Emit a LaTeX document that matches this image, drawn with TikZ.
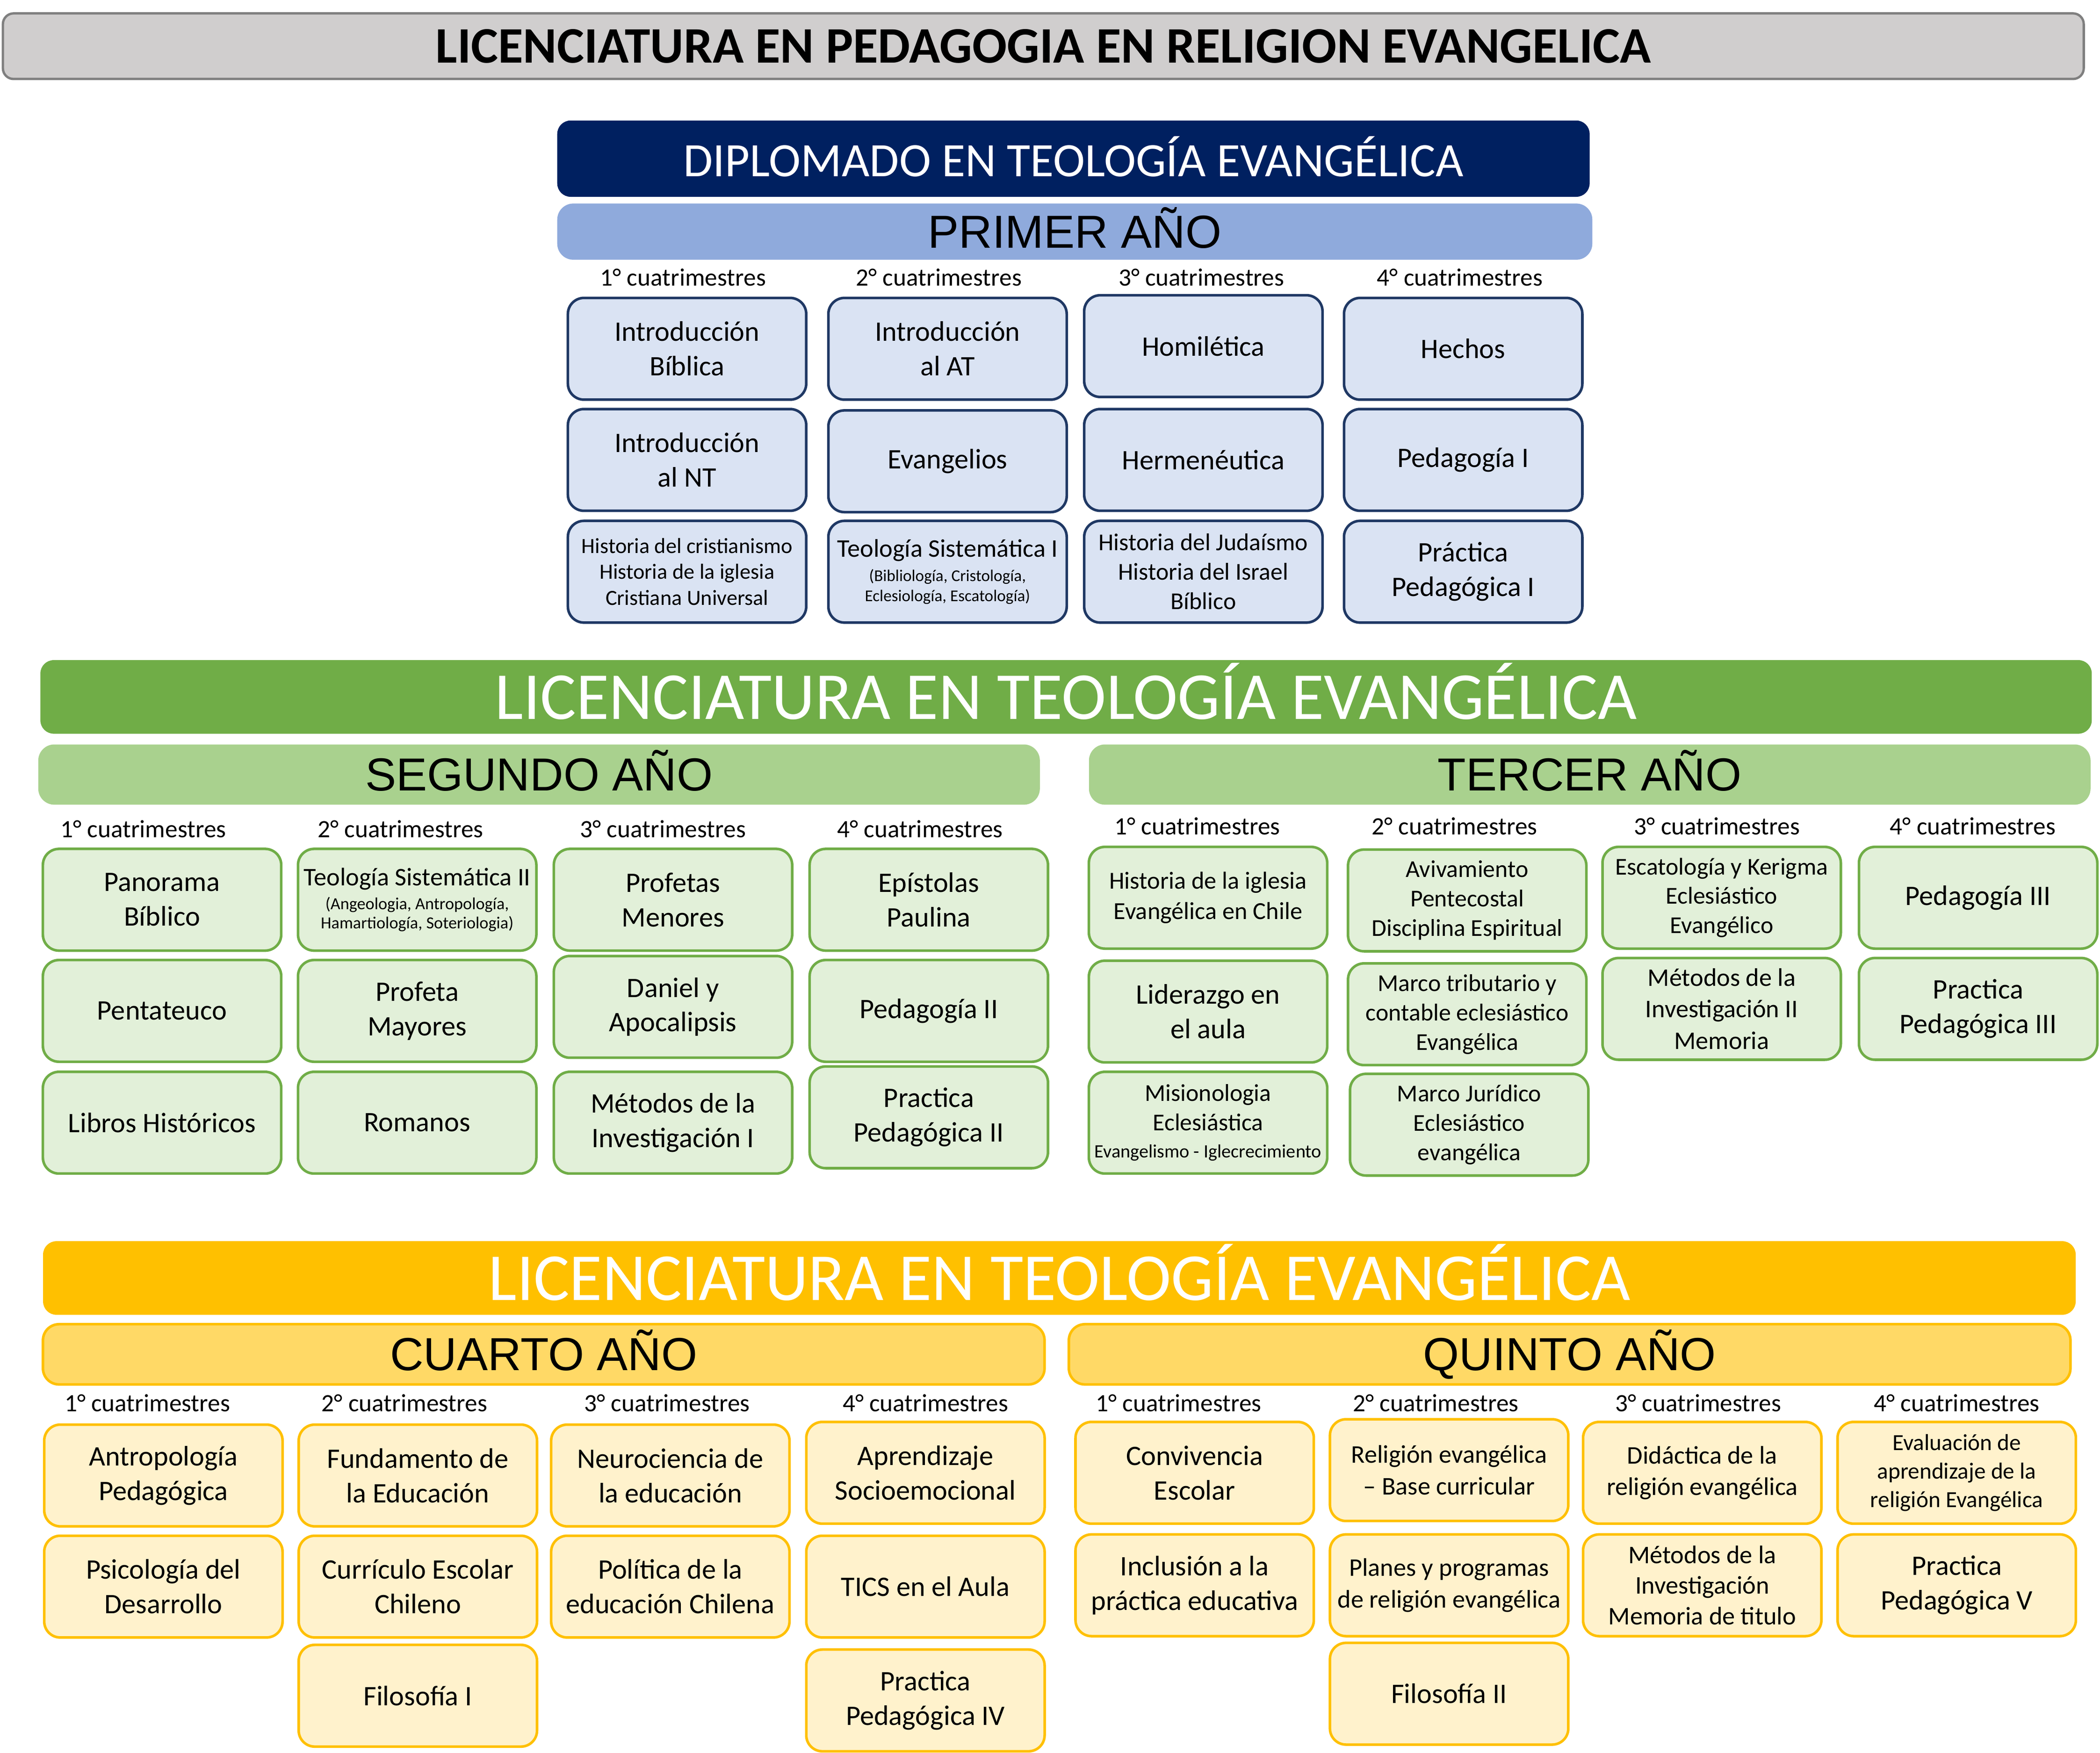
\documentclass[tikz,border=0pt]{standalone}
\usepackage{fontspec}
\usepackage{tikz}
\usepackage{xcolor}
\setmainfont{Carlito}
\newfontfamily\arialfont{Liberation Sans}
\definecolor{titlegray}{HTML}{D0CECE}
\definecolor{titleline}{HTML}{7F7F7F}
\definecolor{navy}{HTML}{002060}
\definecolor{bluebar}{HTML}{8FAADC}
\definecolor{bluefill}{HTML}{DAE3F3}
\definecolor{blueline}{HTML}{1F3864}
\definecolor{greenhead}{HTML}{70AD47}
\definecolor{greenbar}{HTML}{A9D18E}
\definecolor{greenfill}{HTML}{E2F0D9}
\definecolor{yellowhead}{HTML}{FFC000}
\definecolor{yellowbar}{HTML}{FFD966}
\definecolor{yellowfill}{HTML}{FFF2CC}

\begin{document}
\begin{tikzpicture}[x=0.02cm, y=-0.02cm, font=\fontsize{12}{14.7}\selectfont,
    subject/.style={rectangle, rounded corners=0.24cm, line width=1.1pt, minimum width=3.56cm, minimum height=1.52cm, inner sep=1pt, align=center},
    bluebox/.style={subject, draw=blueline, fill=bluefill},
    greenbox/.style={subject, draw=greenhead, fill=greenfill},
    yellowbox/.style={subject, draw=yellowhead, fill=yellowfill},
    cuatri/.style={font=\fontsize{10.6}{12}\selectfont, inner sep=0pt},
    yearbar/.style={rectangle, rounded corners=0.24cm, inner sep=0pt, minimum width=14.96cm, minimum height=0.9cm, text depth=3.5pt, font=\arialfont\fontsize{19.7}{22}\selectfont},
    headbar/.style={rectangle, rounded corners=0.2cm, inner sep=0pt, text=white, minimum height=1.1cm, text depth=5pt, font=\fontsize{28.6}{32}\selectfont},
    smalltext/.style={font=\fontsize{10.3}{12.5}\selectfont},
    midtext/.style={font=\fontsize{10.8}{13.4}\selectfont}
]
            \useasboundingbox (0,0) rectangle (1568,1309);

            \node[draw=titleline, fill=titlegray, line width=1pt, rounded corners=0.16cm, minimum width=31.08cm, minimum height=0.98cm, font=\bfseries\fontsize{21.8}{25}\selectfont] (title) at (779,34.5) {LICENCIATURA EN PEDAGOGIA EN RELIGION EVANGELICA};

            \node[headbar, fill=navy, minimum width=15.42cm, minimum height=1.14cm, text depth=2pt, font=\fontsize{20.4}{24}\selectfont] (diplomado) at (801.5,118.5) {DIPLOMADO EN TEOLOGÍA EVANGÉLICA};
            \node[yearbar, fill=bluebar, minimum width=15.46cm, minimum height=0.84cm] (primer) at (802.5,173) {PRIMER AÑO};

            \node[cuatri] (y1q1) at (510,207) {1° cuatrimestres};
            \node[cuatri] (y1q2) at (701,207) {2° cuatrimestres};
            \node[cuatri] (y1q3) at (897,207) {3° cuatrimestres};
            \node[cuatri] (y1q4) at (1090,207) {4° cuatrimestres};

            \node[bluebox] (y1a1) at (513,260.5) {Introducción\\Bíblica};
            \node[bluebox] (y1a2) at (513,343.5) {Introducción\\al NT};
            \node[bluebox, font=\fontsize{9.2}{11}\selectfont] (y1a3) at (513,427) {Historia del cristianismo\\Historia de la iglesia\\Cristiana Universal};
            \node[bluebox] (y1b1) at (707.5,260.5) {Introducción\\al AT};
            \node[bluebox] (y1b2) at (707.5,344.5) {Evangelios};
            \node[bluebox, font=\fontsize{7}{8.4}\selectfont] (y1b3) at (707.5,427) {{\fontsize{10.8}{13}\selectfont Teología Sistemática I}\\[2pt](Bibliología, Cristología,\\Eclesiología, Escatología)};
            \node[bluebox] (y1c1) at (898.5,258.5) {Homilética};
            \node[bluebox] (y1c2) at (898.5,343.5) {Hermenéutica};
            \node[bluebox, smalltext] (y1c3) at (898.5,427) {Historia del Judaísmo\\Historia del Israel\\Bíblico};
            \node[bluebox] (y1d1) at (1092.5,260.5) {Hechos};
            \node[bluebox] (y1d2) at (1092.5,343.5) {Pedagogía I};
            \node[bluebox] (y1d3) at (1092.5,427) {Práctica\\Pedagógica I};

            \node[headbar, fill=greenhead, minimum width=30.64cm] (teologia1) at (796,520.5) {LICENCIATURA EN TEOLOGÍA EVANGÉLICA};
            \node[yearbar, fill=greenbar] (segundo) at (402.5,578.5) {SEGUNDO AÑO};
            \node[yearbar, fill=greenbar] (tercero) at (1187,578.5) {TERCER AÑO};

            \node[cuatri] (y2q1) at (107,619) {1° cuatrimestres};
            \node[cuatri] (y2q2) at (299,619) {2° cuatrimestres};
            \node[cuatri] (y2q3) at (495,619) {3° cuatrimestres};
            \node[cuatri] (y2q4) at (687,619) {4° cuatrimestres};

            \node[greenbox] (y2a1) at (121,672) {Panorama\\Bíblico};
            \node[greenbox] (y2a2) at (121,755) {Pentateuco};
            \node[greenbox] (y2a3) at (121,838.5) {Libros Históricos};
            \node[greenbox, font=\fontsize{7.2}{8.2}\selectfont] (y2b1) at (311.5,672) {{\fontsize{10.8}{13}\selectfont Teología Sistemática II}\\[2pt](Angeologia, Antropología,\\Hamartiología, Soteriologia)};
            \node[greenbox] (y2b2) at (311.5,755) {Profeta\\Mayores};
            \node[greenbox] (y2b3) at (311.5,838.5) {Romanos};
            \node[greenbox] (y2c1) at (502.5,672) {Profetas\\Menores};
            \node[greenbox] (y2c2) at (502.5,752) {Daniel y\\Apocalipsis};
            \node[greenbox] (y2c3) at (502.5,838.5) {Métodos de la\\Investigación I};
            \node[greenbox] (y2d1) at (693.5,672) {Epístolas\\Paulina};
            \node[greenbox] (y2d2) at (693.5,755) {Pedagogía II};
            \node[greenbox] (y2d3) at (693.5,834.5) {Practica\\Pedagógica II};

            \node[cuatri] (y3q1) at (894,617) {1° cuatrimestres};
            \node[cuatri] (y3q2) at (1086,617) {2° cuatrimestres};
            \node[cuatri] (y3q3) at (1282,617) {3° cuatrimestres};
            \node[cuatri] (y3q4) at (1473,617) {4° cuatrimestres};

            \node[greenbox, font=\fontsize{10.4}{13}\selectfont] (y3a1) at (902,670.5) {Historia de la iglesia\\Evangélica en Chile};
            \node[greenbox] (y3a2) at (902,755.5) {Liderazgo en\\el aula};
            \node[greenbox, smalltext] (y3a3) at (902,838.5) {Misionologia\\Eclesiástica\\[-1pt]{\fontsize{8}{9}\selectfont Evangelismo - Iglecrecimiento}};
            \node[greenbox, smalltext] (y3b1) at (1095.5,672.5) {Avivamiento\\Pentecostal\\Disciplina Espiritual};
            \node[greenbox, smalltext] (y3b2) at (1095.5,757.5) {Marco tributario y\\contable eclesiástico\\Evangélica};
            \node[greenbox, smalltext] (y3b3) at (1097,840) {Marco Jurídico\\Eclesiástico\\evangélica};
            \node[greenbox, smalltext] (y3c1) at (1285.5,670.5) {Escatología y Kerigma\\Eclesiástico\\Evangélico};
            \node[greenbox, midtext] (y3c2) at (1285.5,753.5) {Métodos de la\\Investigación II\\Memoria};
            \node[greenbox] (y3d1) at (1477,670.5) {Pedagogía III};
            \node[greenbox] (y3d2) at (1477,753.5) {Practica\\Pedagógica III};

            \node[headbar, fill=yellowhead, minimum width=30.36cm] (teologia2) at (791,954.5) {LICENCIATURA EN TEOLOGÍA EVANGÉLICA};
            \node[yearbar, fill=yellowbar, draw=yellowhead, line width=1.1pt] (cuarto) at (406,1011.5) {CUARTO AÑO};
            \node[yearbar, fill=yellowbar, draw=yellowhead, line width=1.1pt] (quinto) at (1172,1011.5) {QUINTO AÑO};

            \node[cuatri] (y4q1) at (110,1048) {1° cuatrimestres};
            \node[cuatri] (y4q2) at (302,1048) {2° cuatrimestres};
            \node[cuatri] (y4q3) at (498,1048) {3° cuatrimestres};
            \node[cuatri] (y4q4) at (691,1048) {4° cuatrimestres};

            \node[yellowbox] (y4a1) at (122,1102) {Antropología\\Pedagógica};
            \node[yellowbox] (y4a2) at (122,1185) {Psicología del\\Desarrollo};
            \node[yellowbox] (y4b1) at (312,1102) {Fundamento de\\la Educación};
            \node[yellowbox] (y4b2) at (312,1185) {Currículo Escolar\\Chileno};
            \node[yellowbox] (y4b3) at (312,1266.5) {Filosofía I};
            \node[yellowbox] (y4c1) at (500.5,1102) {Neurociencia de\\la educación};
            \node[yellowbox] (y4c2) at (500.5,1185) {Política de la\\educación Chilena};
            \node[yellowbox] (y4d1) at (691,1100) {Aprendizaje\\Socioemocional};
            \node[yellowbox] (y4d2) at (691,1185) {TICS en el Aula};
            \node[yellowbox] (y4d3) at (691,1270) {Practica\\Pedagógica IV};

            \node[cuatri] (y5q1) at (880,1048) {1° cuatrimestres};
            \node[cuatri] (y5q2) at (1072,1048) {2° cuatrimestres};
            \node[cuatri] (y5q3) at (1268,1048) {3° cuatrimestres};
            \node[cuatri] (y5q4) at (1461,1048) {4° cuatrimestres};

            \node[yellowbox] (y5a1) at (892,1100) {Convivencia\\Escolar};
            \node[yellowbox] (y5a2) at (892,1184) {Inclusión a la\\práctica educativa};
            \node[yellowbox, midtext] (y5b1) at (1082,1098) {Religión evangélica\\– Base curricular};
            \node[yellowbox, midtext] (y5b2) at (1082,1184) {Planes y programas\\de religión evangélica};
            \node[yellowbox] (y5b3) at (1082,1265) {Filosofía II};
            \node[yellowbox, midtext] (y5c1) at (1271,1100) {Didáctica de la\\religión evangélica};
            \node[yellowbox, font=\fontsize{10.8}{13}\selectfont] (y5c2) at (1271,1184) {Métodos de la\\Investigación\\Memoria de titulo};
            \node[yellowbox, font=\fontsize{9.8}{12.2}\selectfont] (y5d1) at (1461,1100) {Evaluación de\\aprendizaje de la\\religión Evangélica};
            \node[yellowbox] (y5d2) at (1461,1184) {Practica\\Pedagógica V};
        \end{tikzpicture}
\end{document}
